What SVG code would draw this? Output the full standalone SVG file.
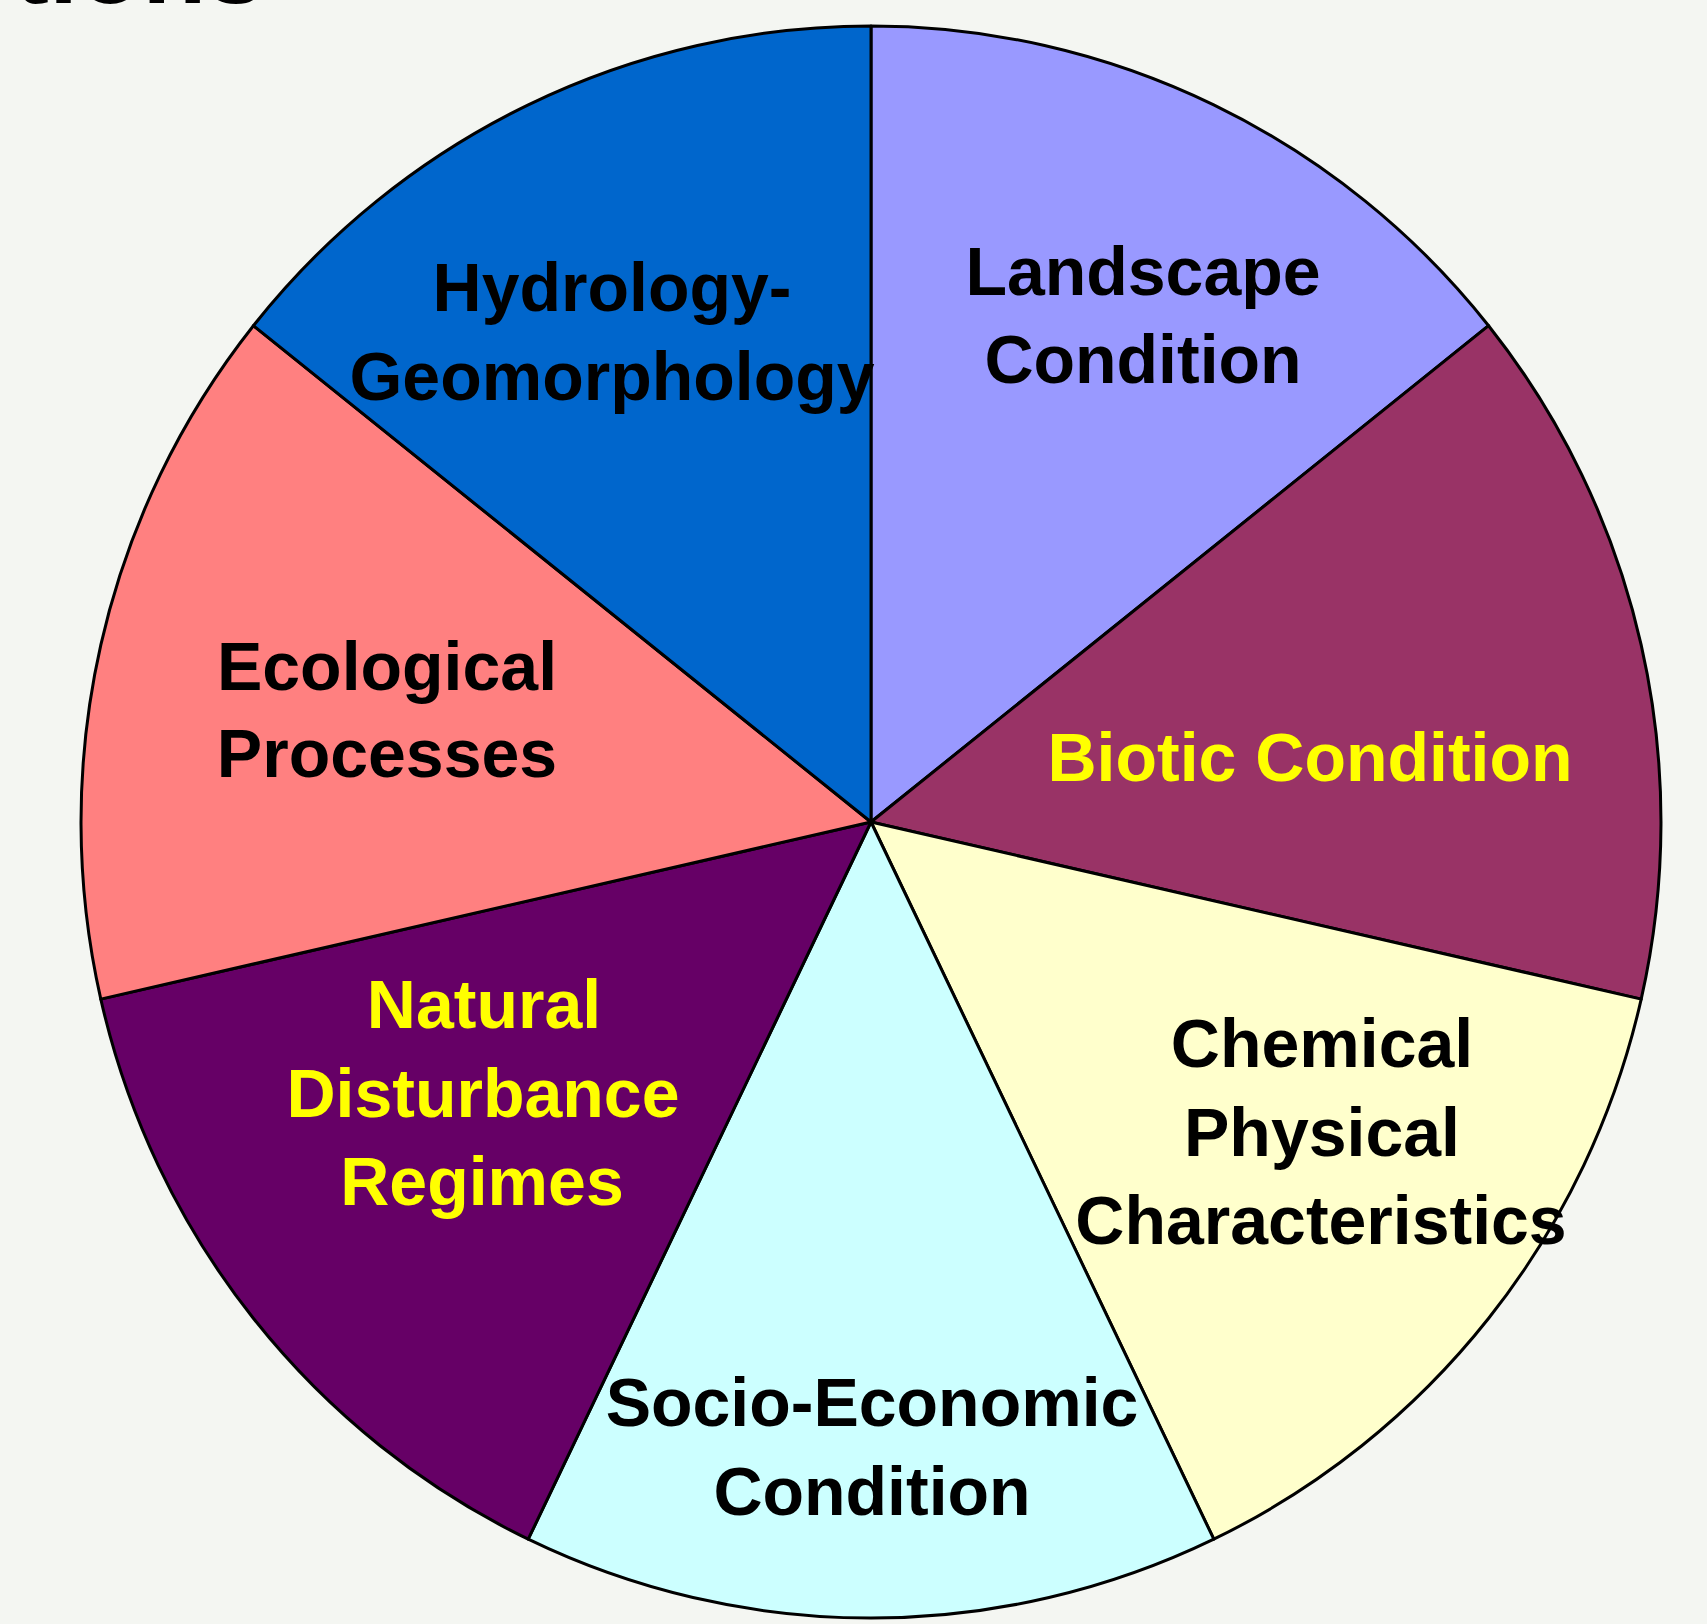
<svg xmlns="http://www.w3.org/2000/svg" width="1707" height="1624" viewBox="0 0 1707 1624">
<style>
.s{stroke:#000;stroke-width:3;stroke-linejoin:round}
.t{font-family:"Liberation Sans",Arial,sans-serif;font-weight:bold;font-size:68px;text-anchor:middle}
.k{fill:#000}
.y{fill:#FFFF00}
</style>
<rect width="1707" height="1624" fill="#f4f6f2"/>
<text x="14" y="3" font-family="Liberation Sans, Arial, sans-serif" font-weight="bold" font-size="105" fill="#000">tions</text>
<g id="slices">
<g id="landscape"><path class="s" fill="#9999FF" d="M871,822 L871,26 A790,796 0 0 1 1488.6,325.7 Z"/></g>
<g id="biotic"><path class="s" fill="#993366" d="M871,822 L1488.6,325.7 A790,796 0 0 1 1641.2,999.1 Z"/></g>
<g id="chemical"><path class="s" fill="#FFFFCC" d="M871,822 L1641.2,999.1 A790,796 0 0 1 1213.8,1539.2 Z"/></g>
<g id="socio"><path class="s" fill="#CCFFFF" d="M871,822 L1213.8,1539.2 A790,796 0 0 1 528.2,1539.2 Z"/></g>
<g id="natural"><path class="s" fill="#660066" d="M871,822 L528.2,1539.2 A790,796 0 0 1 100.8,999.1 Z"/></g>
<g id="ecological"><path class="s" fill="#FF8080" d="M871,822 L100.8,999.1 A790,796 0 0 1 253.4,325.7 Z"/></g>
<g id="hydrology"><path class="s" fill="#0066CC" d="M871,822 L253.4,325.7 A790,796 0 0 1 871,26 Z"/></g>
</g>
<g id="labels">
<text class="t k" x="612" y="311">Hydrology-</text>
<text class="t k" x="612" y="400">Geomorphology</text>
<text class="t k" x="1143" y="295">Landscape</text>
<text class="t k" x="1143" y="383">Condition</text>
<text class="t k" x="387" y="690">Ecological</text>
<text class="t k" x="387" y="777">Processes</text>
<text class="t y" x="1310" y="781">Biotic Condition</text>
<text class="t y" x="484" y="1028">Natural</text>
<text class="t y" x="483" y="1117">Disturbance</text>
<text class="t y" x="482" y="1205">Regimes</text>
<text class="t k" x="1322" y="1067">Chemical</text>
<text class="t k" x="1322" y="1156">Physical</text>
<text class="t k" x="1321" y="1244">Characteristics</text>
<text class="t k" x="872" y="1426">Socio-Economic</text>
<text class="t k" x="872" y="1515">Condition</text>
</g>
</svg>
